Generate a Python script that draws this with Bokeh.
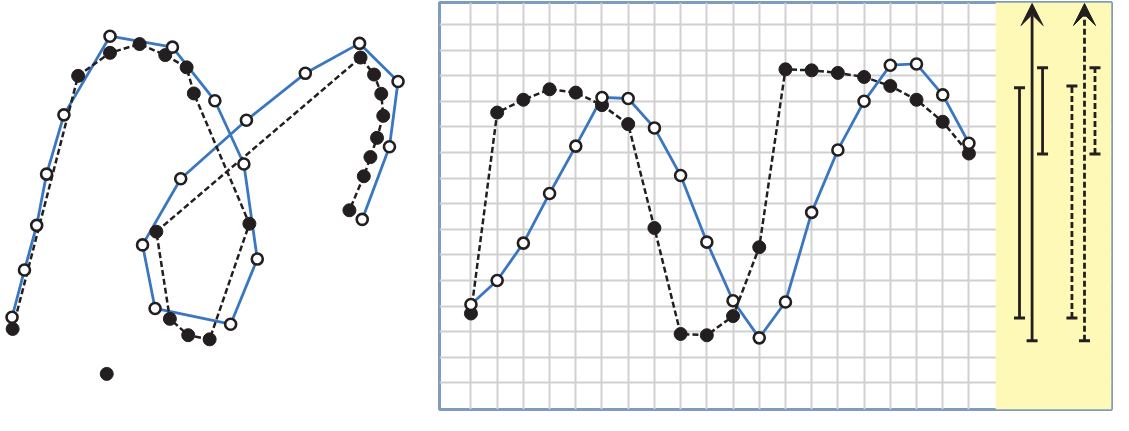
from bokeh.plotting import figure
from bokeh.layouts import row
from bokeh.models import (ColumnDataSource, FixedTicker, BoxAnnotation, Whisker,
                          TeeHead, Arrow, VeeHead, Range1d)
from bokeh.embed import file_html
from bokeh.resources import INLINE

# ---------------- data ----------------
# left panel: 2-D trajectories
path_x = [11.7, 24.3, 36.7, 46.7, 64.3, 111.0, 174.3, 217.3, 246.7, 260.3,
          233.3, 156.7, 144.0, 182.7, 249.3, 309.0, 364.0, 403.0, 394.3, 366.7]
path_y = [97.7, 147.7, 195.0, 249.3, 312.0, 395.3, 383.7, 327.0, 260.0, 159.3,
          90.3, 107.0, 174.3, 244.3, 306.3, 356.0, 387.7, 347.3, 278.3, 201.3]

traj_x = [12.3, 78.7, 111.0, 141.0, 167.0, 188.7, 196.0, 252.3, 212.0, 190.3,
          171.7, 158.0, 365.0, 378.7, 386.0, 388.0, 381.7, 375.0, 368.3, 353.7]
traj_y = [85.3, 353.3, 377.7, 387.0, 375.3, 362.3, 334.7, 196.7, 74.3, 78.7,
          96.0, 188.3, 372.7, 354.7, 334.3, 311.0, 287.7, 267.3, 247.0, 211.0]

stray_x = [107.7]
stray_y = [37.7]

# right panel: time series
t = [0, 1, 2, 3, 4, 5, 6, 7, 8, 9, 10, 11, 12, 13, 14, 15, 16, 17, 18, 19]
blue_ts = [3.06, 4.00, 5.46, 7.40, 9.25, 11.15, 11.11, 9.96, 8.10, 5.50,
           3.21, 1.76, 3.16, 6.66, 9.10, 11.00, 12.41, 12.46, 11.25, 9.36]
black_ts = [2.71, 10.56, 11.06, 11.47, 11.34, 10.85, 10.11, 6.05, 1.91, 1.86,
            2.61, 5.30, 12.25, 12.21, 12.11, 11.95, 11.60, 11.06, 10.20, 8.96]

grid_x = t
grid_y = [0, 1, 2, 3, 4, 5, 6, 7, 8, 9, 10, 11, 12, 13, 14]

# range bars in the yellow band
solid_bar_x = [20.93, 21.81]
solid_bar_lo = [2.53, 8.94]
solid_bar_hi = [11.53, 12.31]
dash_bar_x = [22.93, 23.81]
dash_bar_lo = [2.53, 8.94]
dash_bar_hi = [11.60, 12.31]
arrow_x = [21.41, 23.41]
arrow_lo = [1.65, 1.65]
arrow_hi = [14.82, 14.82]

# ---------------- styles ----------------
INK = "#231f20"
BLUE = "#3a77c0"
DASH = "6 3"

# ---------------- left panel ----------------
left = figure(width=437, height=415, x_range=Range1d(0, 443), y_range=Range1d(0, 431),
              x_axis_location=None, y_axis_location=None, toolbar_location=None,
              output_backend="svg", min_border=0, outline_line_color=None)
left.xgrid.visible = False
left.ygrid.visible = False
left.line(path_x, path_y, line_color=BLUE, line_width=2.8)
left.line(traj_x, traj_y, line_color=INK, line_width=2.5, line_dash=DASH)
left.scatter(traj_x, traj_y, size=13, fill_color=INK, line_color=INK)
left.scatter(stray_x, stray_y, size=13, fill_color=INK, line_color=INK)
left.scatter(path_x, path_y, size=11, fill_color="white", line_color=INK, line_width=2.6)

# ---------------- right panel ----------------
right = figure(width=676, height=415, x_range=Range1d(-1.2, 24.44),
               y_range=Range1d(-1.04, 14.86),
               x_axis_location=None, y_axis_location=None, toolbar_location=None,
               output_backend="svg", min_border_left=2, min_border_right=2,
               min_border_top=2, min_border_bottom=6,
               outline_line_color="#7f9cc0", outline_line_width=3, outline_line_alpha=1)
right.xgrid.ticker = FixedTicker(ticks=grid_x)
right.ygrid.ticker = FixedTicker(ticks=grid_y)
right.grid.grid_line_color = "#d0d0d0"
right.grid.grid_line_width = 2

right.line(t, blue_ts, line_color=BLUE, line_width=2.8)
right.line(t, black_ts, line_color=INK, line_width=2.5, line_dash=DASH)
right.scatter(t, black_ts, size=13, fill_color=INK, line_color=INK)
right.scatter(t, blue_ts, size=11, fill_color="white", line_color=INK, line_width=2.6)

band = BoxAnnotation(left=20.02, fill_color="#fff9b7", fill_alpha=1.0,
                     line_alpha=0, level="annotation")
right.add_layout(band)

def tee():
    return TeeHead(size=11, line_color=INK, line_width=3)

solid_src = ColumnDataSource(dict(x=solid_bar_x, lo=solid_bar_lo, hi=solid_bar_hi))
dash_src = ColumnDataSource(dict(x=dash_bar_x, lo=dash_bar_lo, hi=dash_bar_hi))
right.add_layout(Whisker(source=solid_src, base="x", lower="lo", upper="hi",
                         dimension="height", line_color=INK, line_width=2.8,
                         upper_head=tee(), lower_head=tee(), level="overlay"))
right.add_layout(Whisker(source=dash_src, base="x", lower="lo", upper="hi",
                         dimension="height", line_color=INK, line_width=2.8,
                         line_dash=DASH, upper_head=tee(), lower_head=tee(),
                         level="overlay"))

for i, dash in enumerate(["solid", DASH]):
    right.add_layout(Arrow(x_start=arrow_x[i], y_start=arrow_lo[i],
                           x_end=arrow_x[i], y_end=arrow_hi[i],
                           start=tee(),
                           end=VeeHead(size=22, fill_color=INK, line_color=INK, line_width=1),
                           line_color=INK, line_width=2.8, line_dash=dash,
                           level="overlay"))

layout = row(left, right, spacing=0)
open("out.html", "w").write(file_html(layout, INLINE))
